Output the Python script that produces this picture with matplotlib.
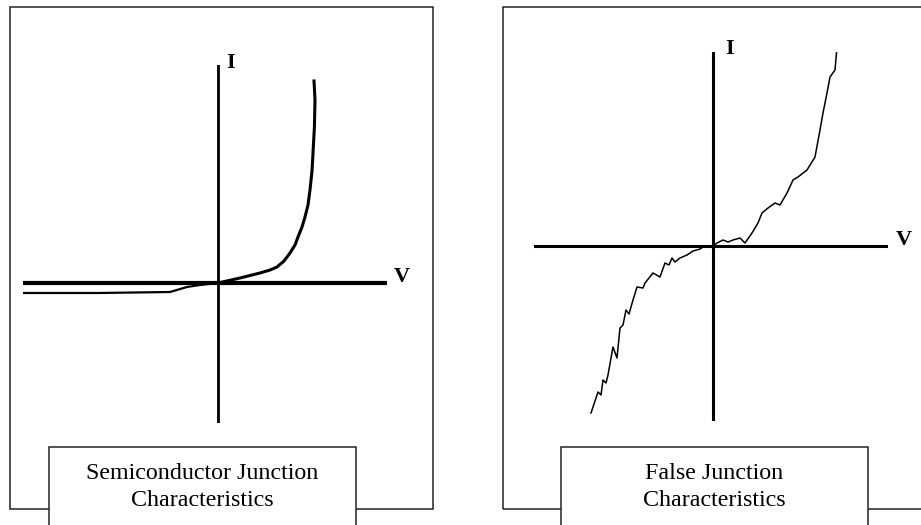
import matplotlib
matplotlib.use("Agg")
import matplotlib.pyplot as plt
from matplotlib.patches import Rectangle

W, H = 921, 525

# data (arbitrary units, origin at the axis crossing)
semi_v = [-9.75, -6.0, -2.4, -1.55, -0.9, 0.0, 1.1, 2.1, 2.6, 2.95, 3.3, 3.6, 3.85, 4.0, 4.2,
          4.35, 4.5, 4.6, 4.7, 4.75, 4.82, 4.85, 4.8]
semi_i = [-0.5, -0.5, -0.45, -0.2, -0.1, 0.0, 0.25, 0.5, 0.65, 0.8, 1.1, 1.5, 1.9, 2.3, 2.8,
          3.3, 3.9, 4.65, 5.6, 6.5, 7.8, 9.15, 10.1]

false_v = [-6.1, -6.0, -5.75, -5.6, -5.5, -5.35, -5.25, -5.0, -4.8, -4.65, -4.5, -4.35, -4.2, -4.0,
           -3.8, -3.5, -3.4, -3.0, -2.65, -2.4, -2.2, -2.05, -1.9, -1.65, -1.3, -1.0, -0.65, -0.5,
           0.0, 0.2, 0.5, 0.75, 1.0, 1.35, 1.6, 1.95, 2.25, 2.45, 2.75, 3.1, 3.35, 3.7, 4.0,
           4.25, 4.7, 5.1, 5.35, 5.5, 5.7, 5.85, 6.1, 6.2]
false_i = [-8.35, -8.05, -7.3, -7.45, -6.7, -6.85, -6.45, -5.05, -5.6, -4.1, -3.95, -3.2, -3.4, -2.7,
           -2.05, -2.1, -1.85, -1.35, -1.55, -0.85, -0.95, -0.6, -0.8, -0.6, -0.45, -0.25, -0.15, -0.05,
           0.0, 0.15, 0.3, 0.2, 0.3, 0.4, 0.15, 0.65, 1.15, 1.65, 1.9, 2.15, 2.05, 2.65, 3.3,
           3.45, 3.8, 4.45, 5.8, 6.65, 7.65, 8.45, 8.8, 9.95]

captions = ["Semiconductor Junction\nCharacteristics", "False Junction\nCharacteristics"]


def px_box(x0, y0, x1, y1):
    return [x0 / W, 1 - y1 / H, (x1 - x0) / W, (y1 - y0) / H]


fig = plt.figure(figsize=(W / 100, H / 100), dpi=100)
serif = ["Liberation Serif", "DejaVu Serif"]

# panel frames and caption boxes (pixel layout)
frames = [(10, 7, 433, 509), (503, 7, 960, 509)]
cap_boxes = [(49, 447, 356, 540), (561, 447, 868, 540)]
for (x0, y0, x1, y1) in frames:
    b = px_box(x0, y0, x1, y1)
    fig.add_artist(Rectangle((b[0], b[1]), b[2], b[3], transform=fig.transFigure,
                             fill=False, lw=1.1, ec="#222222", zorder=1))
for (x0, y0, x1, y1), txt in zip(cap_boxes, captions):
    b = px_box(x0, y0, x1, y1)
    fig.add_artist(Rectangle((b[0], b[1]), b[2], b[3], transform=fig.transFigure,
                             fc="white", lw=1.1, ec="#222222", zorder=5))
    fig.text((x0 + x1) / 2 / W, 1 - 487 / H, txt, ha="center", va="center",
             fontsize=17.3, family=serif, linespacing=1.38, zorder=6)

# left panel: semiconductor junction
ax1 = fig.add_axes(px_box(23, 65, 387, 423))
ax1.set_xlim(-9.75, 8.45)
ax1.set_ylim(-7.0, 10.9)
ax1.axhline(0, color="black", lw=3.0)
ax1.axvline(0, color="black", lw=2.0)
ax1.plot(semi_v[:6], semi_i[:6], color="black", lw=1.6)
ax1.plot(semi_v[5:], semi_i[5:], color="black", lw=2.2)
ax1.axis("off")

# right panel: false junction
ax2 = fig.add_axes(px_box(534, 52, 888, 421))
ax2.set_xlim(-8.95, 8.75)
ax2.set_ylim(-8.75, 9.7)
ax2.axhline(0, color="black", lw=2.2)
ax2.axvline(0, color="black", lw=2.2)
ax2.plot(false_v, false_i, color="black", lw=1.1)
ax2.axis("off")

# axis letters
for (x, y, s) in [(231, 63, "I"), (402, 277, "V"), (730, 49, "I"), (904, 240, "V")]:
    fig.text(x / W, 1 - y / H, s, ha="center", va="center", fontsize=16,
             family=serif, fontweight="bold")

fig.savefig("out.png", dpi=100)
